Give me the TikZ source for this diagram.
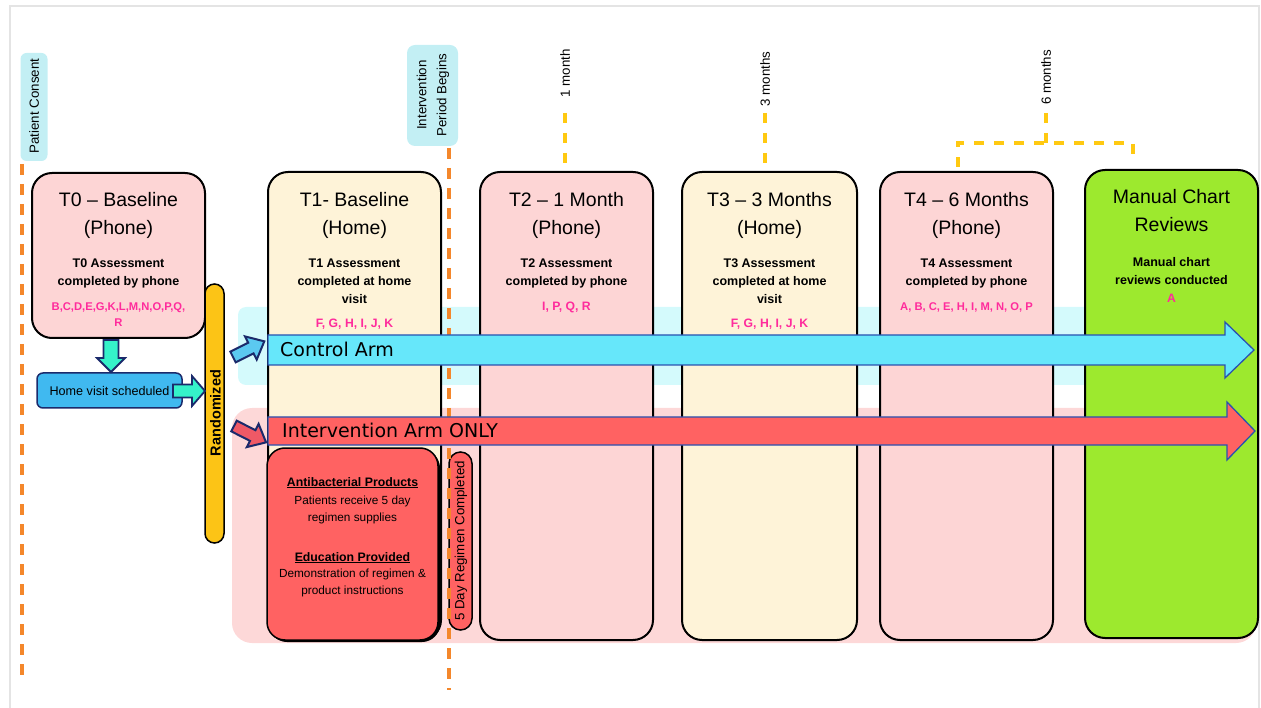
\documentclass[tikz,border=0pt]{standalone}
\usepackage{fontspec}
\setmainfont{Liberation Sans}
\newfontfamily\dejavu{DejaVu Sans}
\usetikzlibrary{calc}
\definecolor{framegray}{HTML}{E4E4E4}
\definecolor{pinkbox}{HTML}{FDD5D5}
\definecolor{creambox}{HTML}{FEF3D8}
\definecolor{greenbox}{HTML}{9DE92E}
\definecolor{cyanband}{HTML}{D4FAFC}
\definecolor{pinkband}{HTML}{FDD8D8}
\definecolor{labelcyan}{HTML}{C3EFF4}
\definecolor{ctrlcyan}{HTML}{66E7FA}
\definecolor{intred}{HTML}{FF6262}
\definecolor{arrowblue}{HTML}{2A52B0}
\definecolor{navyline}{HTML}{1B2A6B}
\definecolor{tealarrow}{HTML}{35F2C9}
\definecolor{homeblue}{HTML}{40B9F0}
\definecolor{goldbar}{HTML}{FCC416}
\definecolor{orangedash}{HTML}{F4872B}
\definecolor{yellowdash}{HTML}{FFC910}
\definecolor{magentatext}{HTML}{FF2B9C}
\definecolor{smallblue}{HTML}{5BC9F0}
\definecolor{smallred}{HTML}{EF5966}
\tikzset{
  tbox/.style={draw=black, line width=2pt, rounded corners=20pt, inner sep=0pt},
  headtext/.style={font=\fontsize{19.5}{22}\selectfont, anchor=base, inner sep=0pt},
  subtext/.style={font=\bfseries\fontsize{12.5}{14}\selectfont, anchor=base, inner sep=0pt},
  lettertext/.style={font=\bfseries\fontsize{12.2}{14}\selectfont, text=magentatext, anchor=base, inner sep=0pt},
  redtext/.style={font=\fontsize{11.8}{14}\selectfont, anchor=base, inner sep=0pt},
  redhead/.style={font=\bfseries\fontsize{12.3}{14}\selectfont, anchor=base, inner sep=0pt},
  vlabel/.style={font=\fontsize{13.3}{17}\selectfont, rotate=90, inner sep=0pt, align=center},
  odash/.style={draw=orangedash, line width=3.5pt, dash pattern=on 11pt off 9pt},
  ydash/.style={draw=yellowdash, line width=3.5pt, dash pattern=on 10pt off 10pt},
  bigarrow/.style={draw=arrowblue, line width=1.3pt, line join=miter},
  armtext/.style={font=\dejavu\fontsize{19}{22}\selectfont, anchor=base west, inner sep=0pt},
  pics/barrow/.style n args={4}{code={
    \path[pic actions] (0,#2) -- (#1-#4,#2) -- (#1-#4,#3) -- (#1,0) -- (#1-#4,-#3) -- (#1-#4,-#2) -- (0,-#2) -- cycle;
  }}
}
\begin{document}
\begin{tikzpicture}[x=1pt,y=-1pt]
\useasboundingbox (0,0) rectangle (1261,708);
% frame
\draw[framegray, line width=2pt] (10,712) -- (10,6) -- (1259,6) -- (1259,712);

% background bands
\fill[cyanband, rounded corners=8pt] (238,307) rectangle (1256,385);
\fill[pinkband, rounded corners=20pt] (232,408) rectangle (1256,643);

% main boxes
\node[tbox, fill=pinkbox, minimum width=173, minimum height=165] (t0) at (118.5,255.5) {};
\node[tbox, fill=creambox, minimum width=173, minimum height=468] (t1) at (354.5,406) {};
\node[tbox, fill=pinkbox, minimum width=173, minimum height=468] (t2) at (566.5,406) {};
\node[tbox, fill=creambox, minimum width=175, minimum height=468] (t3) at (769.5,406) {};
\node[tbox, fill=pinkbox, minimum width=173, minimum height=468] (t4) at (966.5,406) {};
\node[tbox, fill=greenbox, minimum width=173, minimum height=468] (mc) at (1171.5,404) {};

% T0 texts
\node[headtext] (t0h1) at (118.5,207) {T0 – Baseline};
\node[headtext] (t0h2) at (118.5,235) {(Phone)};
\node[subtext] (t0s1) at (118.5,268) {T0 Assessment};
\node[subtext] (t0s2) at (118.5,286) {completed by phone};
\node[lettertext, font=\bfseries\fontsize{11.2}{14}\selectfont] (t0l1) at (118.5,311) {B,C,D,E,G,K,L,M,N,O,P,Q,};
\node[lettertext, font=\bfseries\fontsize{11.2}{14}\selectfont] (t0l2) at (118.5,327) {R};

% T1 texts
\node[headtext] (t1h1) at (354.5,207) {T1- Baseline};
\node[headtext] (t1h2) at (354.5,235) {(Home)};
\node[subtext] (t1s1) at (354.5,268) {T1 Assessment};
\node[subtext] (t1s2) at (354.5,286) {completed at home};
\node[subtext] (t1s3) at (354.5,304) {visit};
\node[lettertext] (t1l1) at (354.5,328) {F, G, H, I, J, K};

% T2 texts
\node[headtext] (t2h1) at (566.5,207) {T2 – 1 Month};
\node[headtext] (t2h2) at (566.5,235) {(Phone)};
\node[subtext] (t2s1) at (566.5,268) {T2 Assessment};
\node[subtext] (t2s2) at (566.5,286) {completed by phone};
\node[lettertext] (t2l1) at (566.5,311) {I, P, Q, R};

% T3 texts
\node[headtext] (t3h1) at (769.5,207) {T3 – 3 Months};
\node[headtext] (t3h2) at (769.5,235) {(Home)};
\node[subtext] (t3s1) at (769.5,268) {T3 Assessment};
\node[subtext] (t3s2) at (769.5,286) {completed at home};
\node[subtext] (t3s3) at (769.5,304) {visit};
\node[lettertext] (t3l1) at (769.5,328) {F, G, H, I, J, K};

% T4 texts
\node[headtext] (t4h1) at (966.5,207) {T4 – 6 Months};
\node[headtext] (t4h2) at (966.5,235) {(Phone)};
\node[subtext] (t4s1) at (966.5,268) {T4 Assessment};
\node[subtext] (t4s2) at (966.5,286) {completed by phone};
\node[lettertext, font=\bfseries\fontsize{11.2}{14}\selectfont] (t4l1) at (966.5,311) {A, B, C, E, H, I, M, N, O, P};

% Manual chart texts
\node[headtext] (mch1) at (1171.5,204) {Manual Chart};
\node[headtext] (mch2) at (1171.5,232) {Reviews};
\node[subtext] (mcs1) at (1171.5,267) {Manual chart};
\node[subtext] (mcs2) at (1171.5,285) {reviews conducted};
\node[lettertext] (mcl1) at (1171.5,303) {A};

% Red intervention box in T1
\fill[black, rounded corners=18pt] (269,450) rectangle (440,642);
\node[draw=black, line width=1.5pt, fill=intred, rounded corners=18pt, minimum width=171, minimum height=192, inner sep=0pt] (abx) at (352.5,544) {};
\node[redhead] (ab1) at (352.5,486) {\underline{Antibacterial Products}};
\node[redtext] (ab2) at (352.5,504) {Patients receive 5 day};
\node[redtext] (ab3) at (352.5,521) {regimen supplies};
\node[redhead] (ed1) at (352.5,561) {\underline{Education Provided}};
\node[redtext] (ed2) at (352.5,577) {Demonstration of regimen \&};
\node[redtext] (ed3) at (352.5,594) {product instructions};

% 5 day pill
\node[draw=black, line width=1.5pt, fill=intred, rounded corners=11.5pt, minimum width=23, minimum height=178, inner sep=0pt] (pill) at (460.5,541) {};
\node[vlabel] (pilltext) at (461,541) {5 Day Regimen Completed};

% Randomized bar
\node[draw=black, line width=1.5pt, fill=goldbar, rounded corners=9.5pt, minimum width=19, minimum height=259, inner sep=0pt] (rand) at (214.5,413.5) {};
\node[vlabel, font=\bfseries\fontsize{14.5}{17}\selectfont] (randtext) at (215.5,413) {Randomized};

% Home visit box
\node[draw=navyline, line width=1.5pt, fill=homeblue, rounded corners=6pt, minimum width=145, minimum height=35, inner sep=0pt, font=\fontsize{12.6}{14}\selectfont] (home) at (109.5,390.5) {Home visit scheduled};

% vertical labels
\node[fill=labelcyan, rounded corners=6pt, minimum width=27, minimum height=108, inner sep=0pt] (pcbox) at (34,107) {};
\node[vlabel] (pctext) at (34,106) {Patient Consent};
\node[fill=labelcyan, rounded corners=8pt, minimum width=51, minimum height=101, inner sep=0pt] (ipbox) at (432.5,95.5) {};
\node[vlabel, font=\fontsize{13.3}{20}\selectfont] (iptext) at (433,95) {Intervention\\Period Begins};

\node[vlabel] (m1) at (565,73.5) {1 month};
\node[vlabel] (m3) at (765,79) {3 months};
\node[vlabel] (m6) at (1046,77.5) {6 months};

% dashed time markers
\coordinate (pcstart) at (22,164);
\coordinate (pcend) at (22,678);
\coordinate (ipstart) at (449,148);
\coordinate (ipend) at (449,690);
\draw[odash] (pcstart) -- (pcend);
\draw[odash] (ipstart) -- (ipend);
\coordinate (m1a) at (565,113); \coordinate (m1b) at (565,166);
\coordinate (m3a) at (765,113); \coordinate (m3b) at (765,166);
\draw[ydash] (m1a) -- (m1b);
\draw[ydash] (m3a) -- (m3b);
\coordinate (m6a) at (1046,113);
\coordinate (m6j) at (1046,143);
\coordinate (m6l) at (958,167);
\coordinate (m6r) at (1133,163);
\draw[ydash] (m6a) -- (m6j);
\draw[ydash] (m6l) |- (m6j) -| (m6r);

% big arm arrows
\draw[bigarrow, fill=ctrlcyan] (268,335) -- (1225,335) -- (1225,322) -- (1254,350) -- (1225,378) -- (1225,365) -- (268,365) -- cycle;
\node[armtext] (ctrltext) at (280,357) {Control Arm};
\draw[bigarrow, fill=intred] (268,417) -- (1227,417) -- (1227,402) -- (1255,431) -- (1227,460) -- (1227,445) -- (268,445) -- cycle;
\node[armtext] (inttext) at (282,438) {Intervention Arm ONLY};

% small block arrows
\pic[draw=navyline, fill=tealarrow, line width=1.8pt, rotate=-90] (downarr) at (111,340) {barrow={32}{7.5}{14}{14}};
\pic[draw=navyline, fill=tealarrow, line width=1.8pt] (rightarr) at (173,391) {barrow={32}{6.5}{15}{13}};
\pic[draw=navyline, fill=smallblue, line width=2pt, rotate=26.6] (ctrlarr) at (233,357) {barrow={35}{6}{13}{15}};
\pic[draw=navyline, fill=smallred, line width=2pt, rotate=-27] (intarr) at (234,426) {barrow={36}{6}{13}{15}};
\end{tikzpicture}
\end{document}
